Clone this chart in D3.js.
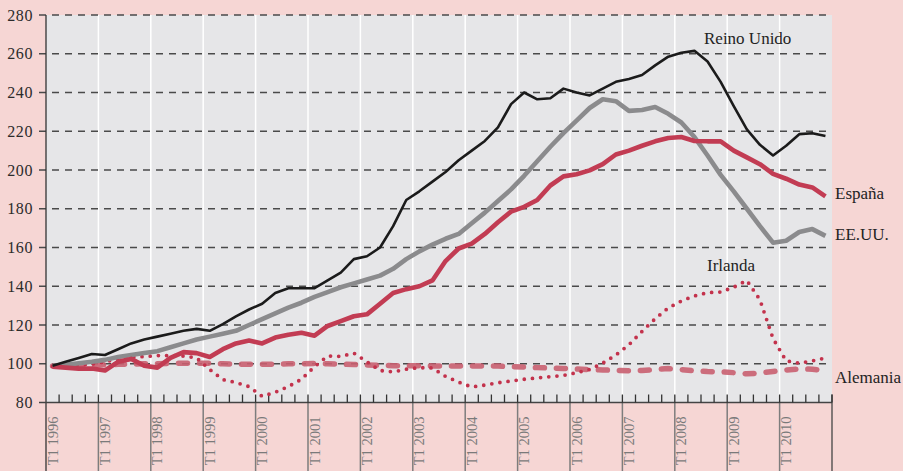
<!DOCTYPE html>
<html>
<head>
<meta charset="utf-8">
<script src="https://cdn.jsdelivr.net/npm/d3@7"></script>
<style>
  html, body { margin: 0; padding: 0; background: #f6d6d4; }
  svg { display: block; font-family: "Liberation Serif", "DejaVu Serif", serif; }
</style>
</head>
<body>
<div id="chart"></div>
<script>
// Años y trimestres del eje horizontal
const years = [1996, 1997, 1998, 1999, 2000, 2001, 2002, 2003, 2004, 2005, 2006, 2007, 2008, 2009, 2010];
const quarterNames = ["T1", "T2", "T3", "T4"];
const quarters = years.flatMap(y => quarterNames.map(q => `${q} ${y}`));
const yTicks = [80, 100, 120, 140, 160, 180, 200, 220, 240, 260, 280];

// Índices de precios de la vivienda (T1 1996 = 100)
const reinoUnido = [
  99, 101, 103, 105, 104.5, 107.5, 110.5, 112.5, 114, 115.5, 117, 118,
  117, 120.5, 124.5, 128, 131, 136.5, 139, 139, 139, 143, 147, 154,
  155.5, 160, 171, 184.5, 189, 194, 199, 205, 210, 215, 222, 234,
  240, 236.5, 237, 242, 240, 238.5, 242, 245.5, 247, 249, 254, 258.5,
  260.5, 261.5, 256, 245.5, 233, 221, 213, 207.5, 212.5, 218.5, 219, 217.5
];
const eeuu = [
  99, 99.5, 100.3, 101, 102, 103.5, 104.5, 105.5, 106.5, 108.5, 110.5, 112.5,
  114, 115.5, 117, 120, 123, 126, 129, 131.5, 134.5, 137, 139.5, 141.5,
  143.5, 145.5, 149, 154, 158, 161.5, 164.5, 167, 172.5, 178, 184, 190,
  197, 204.5, 212, 219, 225.5, 232, 236.5, 235.5, 230.5, 231, 232.5, 229,
  224.5, 217, 207.5, 197.5, 189, 180, 171, 162.5, 163.5, 168, 169.5, 166
];
const espana = [
  98.5, 98, 97.5, 97.5, 96.5, 101, 102.5, 99, 98, 103, 106, 105.5,
  103.5, 107.5, 110.5, 112, 110.5, 113.5, 115, 116, 114.5, 119.5, 122, 124.5,
  125.5, 131, 136.5, 138.5, 140, 143, 153, 159.5, 162, 167, 173, 178.5,
  181, 184.5, 192, 196.7, 197.8, 199.8, 203, 208, 210, 212.5, 214.8, 216.5,
  217, 215, 214.8, 214.8, 210, 206.5, 203, 198, 195.5, 192.5, 191, 186.4
];
const irlanda = [
  98.6, 98.8, 99.3, 99.8, 101, 102.4, 103.4, 103.7, 104.2, 104.2, 104, 103,
  97, 91.8, 90.3, 88.2, 83.2, 85.3, 88.2, 92, 98.5, 104, 103.8, 105.5,
  101, 96.5, 95.8, 97.2, 98, 97.8, 93.5, 90.5, 88, 89, 90.2, 91.1,
  92, 92.7, 93.3, 94, 95.4, 97, 100.3, 104.5, 109.8, 116.7, 123.2, 128.8,
  132.4, 135, 136.7, 137, 139.5, 143, 133, 113, 101.5, 100.3, 101.5, 103
];
const alemania = [
  98.8, 98.8, 99, 99.2, 99.5, 99.7, 99.8, 100, 100, 100.2, 100.2, 100.2,
  100.2, 100, 99.8, 99.7, 99.7, 99.8, 100, 100, 100.2, 100, 99.8, 99.6,
  99.4, 99.2, 99, 99, 99, 98.9, 98.9, 98.9, 98.9, 98.9, 98.8, 98.5,
  98.3, 98, 97.8, 97.6, 97.3, 97, 96.8, 96.6, 96.4, 96.5, 97, 97.5,
  97, 96.4, 96, 95.8, 95.4, 94.8, 95.2, 96, 96.8, 97.3, 97.2, 96.4
];

const width = 903;
const height = 471;
const plotLeft = 46, plotRight = 832, plotTop = 15, plotBottom = 402.5;

const svg = d3.select("#chart").append("svg")
  .attr("width", width)
  .attr("height", height);

svg.append("rect")
  .attr("width", width).attr("height", height)
  .attr("fill", "#f6d6d4");

const x = d3.scaleBand().domain(quarters).range([plotLeft, plotRight]);
const y = d3.scaleLinear().domain([80, 280]).range([plotBottom, plotTop]);
const xc = d => x(d) + x.bandwidth() / 2;

// Fondo del área de trazado
svg.append("rect")
  .attr("x", plotLeft).attr("y", plotTop)
  .attr("width", plotRight - plotLeft).attr("height", plotBottom - plotTop)
  .attr("fill", "#e6e6e8");

// Líneas blancas verticales en el cambio de año
const yearStarts = years.map(yr => `T1 ${yr}`);
svg.append("g")
  .selectAll("line")
  .data(yearStarts.slice(1))
  .join("line")
  .attr("x1", d => x(d)).attr("x2", d => x(d))
  .attr("y1", plotTop).attr("y2", plotBottom - 7)
  .attr("stroke", "#fff")
  .attr("stroke-width", 1.5);

// Líneas verticales bajo el eje (separación de años)
svg.append("g")
  .selectAll("line")
  .data(yearStarts.slice(1))
  .join("line")
  .attr("x1", d => x(d)).attr("x2", d => x(d))
  .attr("y1", plotBottom).attr("y2", height)
  .attr("stroke", "#7d7d7d")
  .attr("stroke-width", 1.5);

svg.append("line")
  .attr("x1", plotRight).attr("x2", plotRight)
  .attr("y1", plotBottom - 8).attr("y2", height)
  .attr("stroke", "#444").attr("stroke-width", 1.3);

// Rejilla horizontal discontinua
svg.append("g")
  .selectAll("line")
  .data(yTicks.filter(d => d > 80))
  .join("line")
  .attr("x1", plotLeft - 7).attr("x2", plotRight)
  .attr("y1", d => y(d)).attr("y2", d => y(d))
  .attr("stroke", "#4a4a4a")
  .attr("stroke-width", 1.4)
  .attr("stroke-dasharray", "7,6");

// Eje Y
const yAxis = svg.append("g")
  .attr("transform", `translate(${plotLeft},0)`)
  .call(d3.axisLeft(y).tickValues(yTicks).tickSize(0).tickPadding(13));
yAxis.select(".domain").remove();
yAxis.selectAll("text")
  .attr("font-family", "Liberation Serif, serif")
  .attr("font-size", 16)
  .attr("letter-spacing", 0.6)
  .attr("fill", "#2b2b2b");

svg.append("line")
  .attr("x1", plotLeft).attr("x2", plotLeft)
  .attr("y1", plotTop).attr("y2", height)
  .attr("stroke", "#333").attr("stroke-width", 1.3);

// Eje X: línea base y marcas trimestrales
svg.append("line")
  .attr("x1", plotLeft - 7).attr("x2", plotRight)
  .attr("y1", plotBottom).attr("y2", plotBottom)
  .attr("stroke", "#444").attr("stroke-width", 1.4);

svg.append("g")
  .selectAll("line")
  .data(quarters.slice(1).concat(["end"]))
  .join("line")
  .attr("x1", d => d === "end" ? plotRight : x(d))
  .attr("x2", d => d === "end" ? plotRight : x(d))
  .attr("y1", plotBottom - 8).attr("y2", plotBottom)
  .attr("stroke", "#333").attr("stroke-width", 1.3);

const xAxis = svg.append("g")
  .attr("transform", `translate(0,${plotBottom})`)
  .call(d3.axisBottom(x).tickValues(yearStarts).tickSize(0).tickFormat(d => d));
xAxis.select(".domain").remove();
xAxis.selectAll("text")
  .attr("font-family", "Liberation Serif, serif")
  .attr("font-size", 14.5)
  .attr("fill", "#7a7a7a")
  .attr("text-anchor", "end")
  .attr("dy", null)
  .attr("y", 0)
  .attr("transform", "translate(5,14) rotate(-90)");

// Series
const line = d3.line()
  .x((d, i) => xc(quarters[i]))
  .y(d => y(d));

const series = [
  { name: "Alemania", values: alemania, color: "#c95f70", width: 5.5, dash: "9,12", cap: "round", opacity: 0.9 },
  { name: "Irlanda", values: irlanda, color: "#c3324c", width: 3.8, dash: "0,8.2", cap: "round", opacity: 1 },
  { name: "EE.UU.", values: eeuu, color: "#8b8b8d", width: 4.6, dash: null, cap: "butt", opacity: 1 },
  { name: "España", values: espana, color: "#c23c53", width: 4.6, dash: null, cap: "butt", opacity: 1 },
  { name: "Reino Unido", values: reinoUnido, color: "#1b1b1b", width: 2.6, dash: null, cap: "butt", opacity: 1 }
];

svg.append("g")
  .selectAll("path")
  .data(series)
  .join("path")
  .attr("d", d => line(d.values))
  .attr("fill", "none")
  .attr("stroke", d => d.color)
  .attr("stroke-width", d => d.width)
  .attr("stroke-dasharray", d => d.dash)
  .attr("stroke-linecap", d => d.cap)
  .attr("stroke-linejoin", "round")
  .attr("opacity", d => d.opacity);

// Etiquetas de las series
const labels = [
  { text: "Reino Unido", x: 704, y: 44 },
  { text: "España", x: 835, y: 199 },
  { text: "EE.UU.", x: 835, y: 240 },
  { text: "Irlanda", x: 707, y: 271 },
  { text: "Alemania", x: 835, y: 383 }
];

svg.append("g")
  .selectAll("text")
  .data(labels)
  .join("text")
  .attr("x", d => d.x)
  .attr("y", d => d.y)
  .attr("font-size", 17)
  .attr("fill", "#232323")
  .text(d => d.text);
</script>
</body>
</html>
